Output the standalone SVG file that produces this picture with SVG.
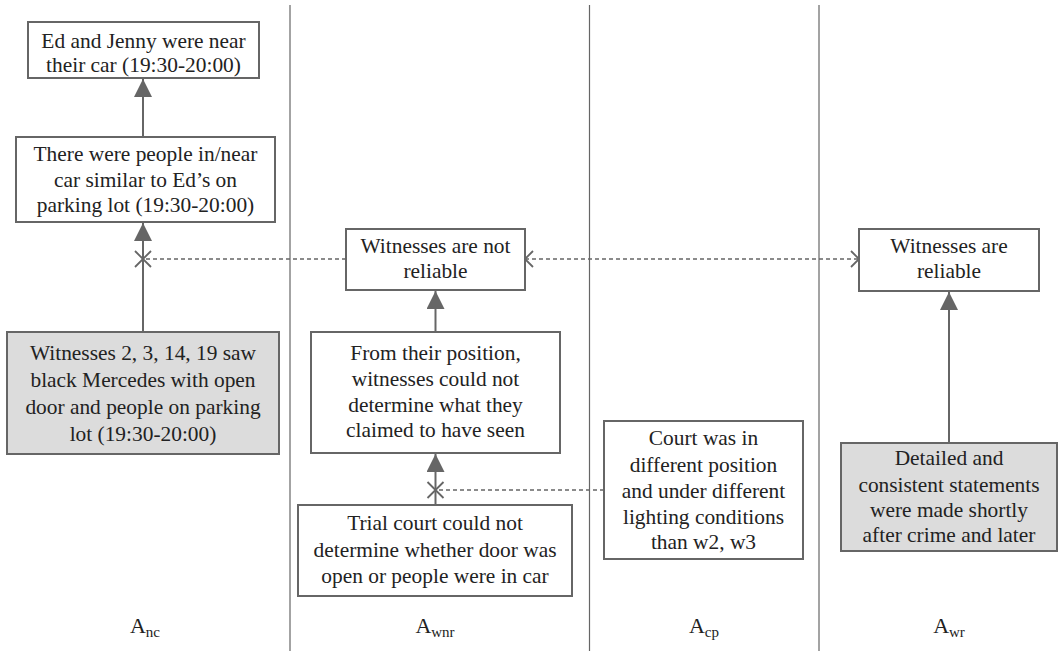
<svg xmlns="http://www.w3.org/2000/svg" width="1059" height="651" viewBox="0 0 1059 651">
<style>
.box{fill:#fff;stroke:#666;stroke-width:2}
.grey{fill:#dcdcdc;stroke:#666;stroke-width:2}
text{font-family:'Liberation Serif',serif;fill:#222;text-anchor:middle}
.t{font-size:21.4px}
.lbl{font-size:22px}
.sep{stroke:#666;stroke-width:1.2}
.sup{stroke:#666;stroke-width:2;fill:none}
.att{stroke:#666;stroke-width:1.6;fill:none;stroke-dasharray:4 3}
.x{stroke:#666;stroke-width:1.8;fill:none}
</style>
<defs>
<marker id="ah" markerUnits="userSpaceOnUse" markerWidth="18" markerHeight="20" refX="18" refY="9" orient="auto">
<path d="M0,0 L18,9 L0,18 Z" fill="#666"/>
</marker>
</defs>
<rect width="1059" height="651" fill="#fff"/>
<g id="separators">
<line class="sep" x1="290" y1="5" x2="290" y2="651"/>
<line class="sep" x1="589.5" y1="5" x2="589.5" y2="651"/>
<line class="sep" x1="819" y1="5" x2="819" y2="651"/>
</g>
<g id="connectors">
<line class="sup" x1="143" y1="137" x2="143" y2="79" marker-end="url(#ah)"/>
<line class="sup" x1="143" y1="332" x2="143" y2="223" marker-end="url(#ah)"/>
<line class="sup" x1="435.5" y1="332" x2="435.5" y2="291" marker-end="url(#ah)"/>
<line class="sup" x1="435.5" y1="505" x2="435.5" y2="454" marker-end="url(#ah)"/>
<line class="sup" x1="949" y1="443" x2="949" y2="292" marker-end="url(#ah)"/>
<line class="att" x1="346" y1="259" x2="143" y2="259"/>
<path class="x" d="M135,251 L151,267 M151,251 L135,267"/>
<line class="att" x1="525" y1="259" x2="859" y2="259"/>
<path class="x" d="M517,251 L533,267 M533,251 L517,267"/>
<path class="x" d="M851,251 L867,267 M867,251 L851,267"/>
<line class="att" x1="604" y1="490" x2="435.5" y2="490"/>
<path class="x" d="M427.5,482 L443.5,498 M443.5,482 L427.5,498"/>
</g>
<g id="n1">
<rect class="box" x="28" y="22" width="231" height="56"/>
<text class="t" font-family="Liberation Serif" x="143.5" y="48">Ed and Jenny were near</text>
<text class="t" font-family="Liberation Serif" x="143.5" y="72">their car (19:30-20:00)</text>
</g>
<g id="n2">
<rect class="box" x="16" y="137" width="259" height="85"/>
<text class="t" x="145.5" y="161">There were people in/near</text>
<text class="t" x="145.5" y="187">car similar to Ed’s on</text>
<text class="t" x="145.5" y="212">parking lot (19:30-20:00)</text>
</g>
<g id="n3">
<rect class="grey" x="7" y="332" width="272" height="122"/>
<text class="t" x="143" y="360">Witnesses 2, 3, 14, 19 saw</text>
<text class="t" x="143" y="387">black Mercedes with open</text>
<text class="t" x="143" y="414">door and people on parking</text>
<text class="t" x="143" y="441">lot (19:30-20:00)</text>
</g>
<g id="n4">
<rect class="box" x="346" y="229" width="179" height="61"/>
<text class="t" x="435.5" y="253">Witnesses are not</text>
<text class="t" x="435.5" y="278">reliable</text>
</g>
<g id="n5">
<rect class="box" x="311" y="332" width="249" height="121"/>
<text class="t" x="435.5" y="360">From their position,</text>
<text class="t" x="435.5" y="386">witnesses could not</text>
<text class="t" x="435.5" y="412">determine what they</text>
<text class="t" x="435.5" y="437">claimed to have seen</text>
</g>
<g id="n6">
<rect class="box" x="298" y="505" width="274" height="91"/>
<text class="t" x="435" y="530">Trial court could not</text>
<text class="t" x="435" y="557">determine whether door was</text>
<text class="t" x="435" y="583">open or people were in car</text>
</g>
<g id="n7">
<rect class="box" x="604" y="421" width="199" height="138"/>
<text class="t" x="703.5" y="445">Court was in</text>
<text class="t" x="703.5" y="472">different position</text>
<text class="t" x="703.5" y="498">and under different</text>
<text class="t" x="703.5" y="524">lighting conditions</text>
<text class="t" x="703.5" y="549">than w2, w3</text>
</g>
<g id="n8">
<rect class="box" x="859" y="229" width="180" height="62"/>
<text class="t" x="949" y="253">Witnesses are</text>
<text class="t" x="949" y="278">reliable</text>
</g>
<g id="n9">
<rect class="grey" x="841" y="443" width="216" height="108"/>
<text class="t" x="949" y="465">Detailed and</text>
<text class="t" x="949" y="492">consistent statements</text>
<text class="t" x="949" y="517">were made shortly</text>
<text class="t" x="949" y="542">after crime and later</text>
</g>
<g id="labels">
<text class="lbl" x="145" y="633">A<tspan font-size="15" dy="4">nc</tspan></text>
<text class="lbl" x="435" y="633">A<tspan font-size="15" dy="4">wnr</tspan></text>
<text class="lbl" x="704" y="633">A<tspan font-size="15" dy="4">cp</tspan></text>
<text class="lbl" x="949" y="633">A<tspan font-size="15" dy="4">wr</tspan></text>
</g>
</svg>
